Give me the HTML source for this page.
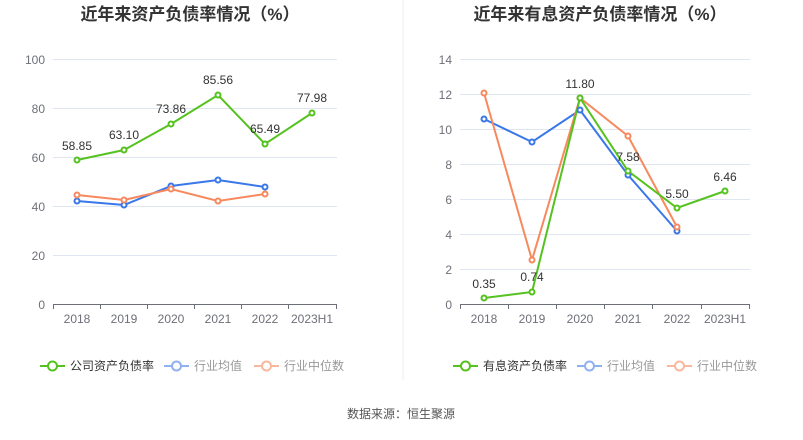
<!DOCTYPE html>
<html><head><meta charset="utf-8"><style>
body{margin:0;background:#fff;width:803px;height:435px;overflow:hidden;font-family:"Liberation Sans","Noto Sans CJK SC",sans-serif}
</style></head><body>
<svg width="803" height="435" xmlns="http://www.w3.org/2000/svg" font-family="Liberation Sans, Noto Sans CJK SC, sans-serif">
<line x1="403" y1="0" x2="403" y2="380" stroke="#eee"/>
<text x="190" y="20" text-anchor="middle" font-size="17" font-weight="bold" fill="#333">近年来资产负债率情况（%）</text>
<text x="600" y="20" text-anchor="middle" font-size="17" font-weight="bold" fill="#333">近年来有息资产负债率情况（%）</text>
<g stroke="#e0e6f1" stroke-width="1">
<line x1="53" x2="337" y1="59.5" y2="59.5"/><line x1="53" x2="337" y1="108.5" y2="108.5"/><line x1="53" x2="337" y1="157.5" y2="157.5"/><line x1="53" x2="337" y1="206.5" y2="206.5"/><line x1="53" x2="337" y1="255.5" y2="255.5"/>
<line x1="460" x2="750" y1="59.5" y2="59.5"/><line x1="460" x2="750" y1="94.5" y2="94.5"/><line x1="460" x2="750" y1="129.5" y2="129.5"/><line x1="460" x2="750" y1="164.5" y2="164.5"/><line x1="460" x2="750" y1="199.5" y2="199.5"/><line x1="460" x2="750" y1="234.5" y2="234.5"/><line x1="460" x2="750" y1="269.5" y2="269.5"/>
</g>
<g stroke="#6e7079"><line x1="53" x2="337" y1="304.5" y2="304.5"/><line x1="460" x2="750" y1="304.5" y2="304.5"/>
<g stroke-width="1"><line x1="53.5" x2="53.5" y1="304" y2="309"/><line x1="100.5" x2="100.5" y1="304" y2="309"/><line x1="147.5" x2="147.5" y1="304" y2="309"/><line x1="194.5" x2="194.5" y1="304" y2="309"/><line x1="241.5" x2="241.5" y1="304" y2="309"/><line x1="288.5" x2="288.5" y1="304" y2="309"/><line x1="336.5" x2="336.5" y1="304" y2="309"/>
<line x1="460.5" x2="460.5" y1="304" y2="309"/><line x1="508.5" x2="508.5" y1="304" y2="309"/><line x1="556.5" x2="556.5" y1="304" y2="309"/><line x1="604.5" x2="604.5" y1="304" y2="309"/><line x1="652.5" x2="652.5" y1="304" y2="309"/><line x1="701.5" x2="701.5" y1="304" y2="309"/><line x1="749.5" x2="749.5" y1="304" y2="309"/></g></g>
<g font-size="12" fill="#6e7079" text-anchor="end">
<text x="45" y="64">100</text><text x="45" y="113">80</text><text x="45" y="162">60</text><text x="45" y="211">40</text><text x="45" y="260">20</text><text x="45" y="309">0</text>
<text x="452" y="64">14</text><text x="452" y="99">12</text><text x="452" y="134">10</text><text x="452" y="169">8</text><text x="452" y="204">6</text><text x="452" y="239">4</text><text x="452" y="274">2</text><text x="452" y="309">0</text>
</g>
<g font-size="12" fill="#6e7079" text-anchor="middle">
<text x="77" y="323">2018</text><text x="124" y="323">2019</text><text x="171" y="323">2020</text><text x="218" y="323">2021</text><text x="265" y="323">2022</text><text x="312" y="323">2023H1</text>
<text x="484" y="323">2018</text><text x="532" y="323">2019</text><text x="580" y="323">2020</text><text x="628" y="323">2021</text><text x="677" y="323">2022</text><text x="725" y="323">2023H1</text>
</g>
<g fill="#fff" stroke-width="2">
<polyline fill="none" stroke="#3a77e8" points="77,201 124,205 171,186 218,180 265,187"/>
<polyline fill="none" stroke="#f7895e" points="77,195 124,200 171,189 218,201 265,194"/>
<polyline fill="none" stroke="#55c21f" points="77,160 124,150 171,124 218,95 265,144 312,113"/>
<g stroke="#3a77e8"><circle cx="77" cy="201" r="2.5"/><circle cx="124" cy="205" r="2.5"/><circle cx="171" cy="186" r="2.5"/><circle cx="218" cy="180" r="2.5"/><circle cx="265" cy="187" r="2.5"/></g>
<g stroke="#f7895e"><circle cx="77" cy="195" r="2.5"/><circle cx="124" cy="200" r="2.5"/><circle cx="171" cy="189" r="2.5"/><circle cx="218" cy="201" r="2.5"/><circle cx="265" cy="194" r="2.5"/></g>
<g stroke="#55c21f"><circle cx="77" cy="160" r="2.5"/><circle cx="124" cy="150" r="2.5"/><circle cx="171" cy="124" r="2.5"/><circle cx="218" cy="95" r="2.5"/><circle cx="265" cy="144" r="2.5"/><circle cx="312" cy="113" r="2.5"/></g>

<polyline fill="none" stroke="#3a77e8" points="484,119 532,142 580,110 628,175 677,231"/>
<polyline fill="none" stroke="#f7895e" points="484,93 532,260 580,98 628,136 677,227"/>
<polyline fill="none" stroke="#55c21f" points="484,298 532,292 580,98 628,171 677,208 725,191"/>
<g stroke="#3a77e8"><circle cx="484" cy="119" r="2.5"/><circle cx="532" cy="142" r="2.5"/><circle cx="580" cy="110" r="2.5"/><circle cx="628" cy="175" r="2.5"/><circle cx="677" cy="231" r="2.5"/></g>
<g stroke="#f7895e"><circle cx="484" cy="93" r="2.5"/><circle cx="532" cy="260" r="2.5"/><circle cx="580" cy="98" r="2.5"/><circle cx="628" cy="136" r="2.5"/><circle cx="677" cy="227" r="2.5"/></g>
<g stroke="#55c21f"><circle cx="484" cy="298" r="2.5"/><circle cx="532" cy="292" r="2.5"/><circle cx="580" cy="98" r="2.5"/><circle cx="628" cy="171" r="2.5"/><circle cx="677" cy="208" r="2.5"/><circle cx="725" cy="191" r="2.5"/></g>
</g>
<g font-size="12" fill="#333" text-anchor="middle">
<text x="77" y="150">58.85</text><text x="124" y="139">63.10</text><text x="171" y="113">73.86</text><text x="218" y="84">85.56</text><text x="265" y="133">65.49</text><text x="312" y="102">77.98</text>
<text x="484" y="288">0.35</text><text x="532" y="281">0.74</text><text x="580" y="88">11.80</text><text x="628" y="161">7.58</text><text x="677" y="198">5.50</text><text x="725" y="181">6.46</text>
</g>
<g font-size="12" stroke-width="2" fill="#fff">
<line x1="40" x2="65" y1="366" y2="366" stroke="#55c21f"/><circle cx="52.5" cy="366" r="4.5" stroke="#55c21f"/>
<text x="70" y="370" fill="#333" stroke="none">公司资产负债率</text>
<line x1="164" x2="189" y1="366" y2="366" stroke="#8fb1f0"/><circle cx="176.5" cy="366" r="4.5" stroke="#8fb1f0"/>
<text x="194" y="370" fill="#999" stroke="none">行业均值</text>
<line x1="254" x2="279" y1="366" y2="366" stroke="#f9b89d"/><circle cx="266.5" cy="366" r="4.5" stroke="#f9b89d"/>
<text x="284" y="370" fill="#999" stroke="none">行业中位数</text>
<line x1="453" x2="478" y1="366" y2="366" stroke="#55c21f"/><circle cx="465.5" cy="366" r="4.5" stroke="#55c21f"/>
<text x="483" y="370" fill="#333" stroke="none">有息资产负债率</text>
<line x1="577" x2="602" y1="366" y2="366" stroke="#8fb1f0"/><circle cx="589.5" cy="366" r="4.5" stroke="#8fb1f0"/>
<text x="607" y="370" fill="#999" stroke="none">行业均值</text>
<line x1="667" x2="692" y1="366" y2="366" stroke="#f9b89d"/><circle cx="679.5" cy="366" r="4.5" stroke="#f9b89d"/>
<text x="697" y="370" fill="#999" stroke="none">行业中位数</text>
</g>
<text x="401" y="418" text-anchor="middle" font-size="12" fill="#555">数据来源：恒生聚源</text>
</svg>
</body></html>
